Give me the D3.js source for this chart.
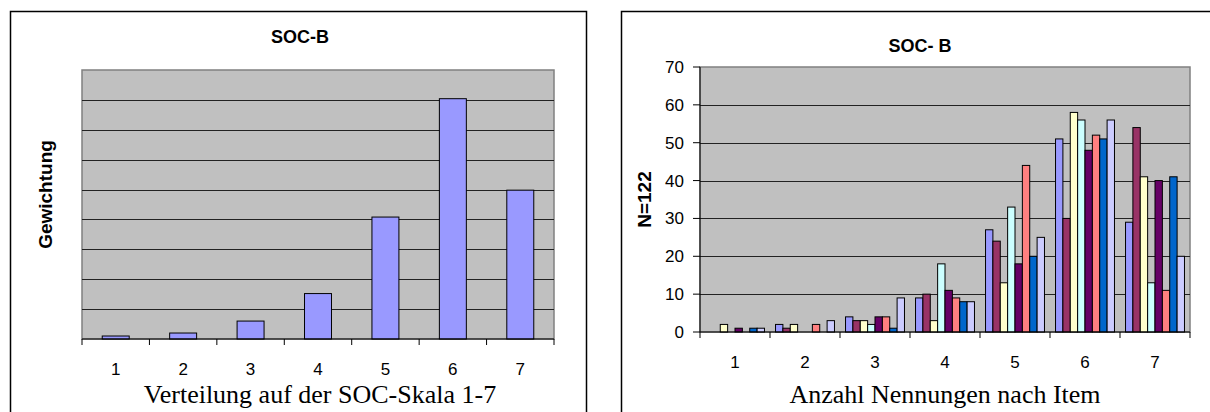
<!DOCTYPE html>
<html><head><meta charset="utf-8">
<script src="https://cdn.jsdelivr.net/npm/d3@7"></script>
<style>
html,body{margin:0;padding:0;background:#fff;}
svg{display:block;}
text{font-family:"Liberation Sans",Arial,sans-serif;}
.serif{font-family:"Liberation Serif","Times New Roman",serif;}
</style></head>
<body>
<svg id="c" width="1210" height="412"></svg>
<script>
// ---- data ----
const categories = ["1","2","3","4","5","6","7"];
// left chart: weighted totals per scale point (no y labels in original)
const leftValues = [5, 10, 30, 76, 204, 402, 249];
const leftGridTicks = [50,100,150,200,250,300,350,400,450];
// right chart: counts per item (8 items) for each scale point
const seriesNames = ["Item 1","Item 2","Item 3","Item 4","Item 5","Item 6","Item 7","Item 8"];
const s1 = [0, 2, 4, 9, 27, 51, 29];
const s2 = [0, 1, 3, 10, 24, 30, 54];
const s3 = [2, 2, 3, 3, 13, 58, 41];
const s4 = [0, 0, 2, 18, 33, 56, 13];
const s5 = [1, 0, 4, 11, 18, 48, 40];
const s6 = [0, 2, 4, 9, 44, 52, 11];
const s7 = [1, 0, 1, 8, 20, 51, 41];
const s8 = [1, 3, 9, 8, 25, 56, 20];
const rightSeries = [s1,s2,s3,s4,s5,s6,s7,s8];
const rightYTicks = [0,10,20,30,40,50,60,70];
const seriesColors = ["#9999FF","#993366","#FFFFCC","#CCFFFF","#660066","#FF8080","#0066CC","#CCCCFF"];

const svg = d3.select("#c");

// ---------- LEFT CHART ----------
(function(){
  const g = svg.append("g");
  g.append("rect").attr("x",10.5).attr("y",11.5).attr("width",576).attr("height",420)
    .attr("fill","#fff").attr("stroke","#000").attr("stroke-width",1.5);
  const L=82, R=554, T=70, B=339;
  const x = d3.scaleBand().domain(categories).range([L,R]).paddingInner(0.6).paddingOuter(0.3);
  const y = d3.scaleLinear().domain([0,450]).range([B,T]);
  const xb = d3.scaleBand().domain(categories).range([L,R]).padding(0);
  g.append("rect").attr("x",L).attr("y",T).attr("width",R-L).attr("height",B-T)
    .attr("fill","#C0C0C0").attr("stroke","#808080").attr("stroke-width",1.5);
  g.selectAll(".grid").data(leftGridTicks.filter(t=>t<450)).join("line")
    .attr("x1",L).attr("x2",R).attr("y1",d=>Math.round(y(d))+0.5).attr("y2",d=>Math.round(y(d))+0.5)
    .attr("stroke","#222").attr("stroke-width",1);
  g.selectAll(".bar").data(leftValues).join("rect")
    .attr("x",(d,i)=>x(categories[i])).attr("width",x.bandwidth())
    .attr("y",d=>y(d)).attr("height",d=>B-y(d))
    .attr("fill","#9999FF").attr("stroke","#000").attr("stroke-width",1);
  // x axis
  const ax = g.append("g").attr("transform",`translate(0,${B})`);
  ax.append("line").attr("x1",L).attr("x2",R).attr("stroke","#000");
  ax.selectAll(".tk").data(d3.range(categories.length+1)).join("line")
    .attr("x1",i=>L+i*xb.step()).attr("x2",i=>L+i*xb.step()).attr("y1",0).attr("y2",6).attr("stroke","#000");
  ax.selectAll(".lb").data(categories).join("text")
    .attr("x",d=>xb(d)+xb.bandwidth()/2).attr("y",36).attr("text-anchor","middle")
    .attr("font-size",17).text(d=>d);
  g.append("text").attr("x",300).attr("y",43).attr("text-anchor","middle")
    .attr("font-size",18).attr("font-weight","bold").text("SOC-B");
  g.append("text").attr("transform",`translate(52,${(T+B)/2-10}) rotate(-90)`)
    .attr("text-anchor","middle").attr("font-size",19).attr("font-weight","bold").text("Gewichtung");
  g.append("text").attr("class","serif").attr("x",(L+R)/2+2).attr("y",403).attr("text-anchor","middle")
    .attr("font-size",26).text("Verteilung auf der SOC-Skala 1-7");
})();

// ---------- RIGHT CHART ----------
(function(){
  const g = svg.append("g");
  g.append("rect").attr("x",621.5).attr("y",11.5).attr("width",620).attr("height",420)
    .attr("fill","#fff").attr("stroke","#000").attr("stroke-width",1.5);
  const L=700, R=1190, T=67, B=332;
  const x0 = d3.scaleBand().domain(categories).range([L,R]).padding(0);
  const x1 = d3.scaleBand().domain(d3.range(seriesNames.length)).range([0,x0.bandwidth()]).paddingInner(0).paddingOuter(0.75);
  const y = d3.scaleLinear().domain([0,70]).range([B,T]);
  g.append("rect").attr("x",L).attr("y",T).attr("width",R-L).attr("height",B-T)
    .attr("fill","#C0C0C0").attr("stroke","#808080").attr("stroke-width",1.5);
  g.selectAll(".grid").data(rightYTicks.filter(t=>t>0&&t<70)).join("line")
    .attr("x1",L).attr("x2",R).attr("y1",d=>Math.round(y(d))+0.5).attr("y2",d=>Math.round(y(d))+0.5)
    .attr("stroke","#222").attr("stroke-width",1);
  rightSeries.forEach((vals,si)=>{
    g.selectAll(".b"+si).data(vals.map((v,i)=>({v,c:categories[i]})).filter(d=>d.v>0)).join("rect")
      .attr("x",d=>x0(d.c)+x1(si)).attr("width",x1.bandwidth())
      .attr("y",d=>y(d.v)).attr("height",d=>B-y(d.v))
      .attr("fill",seriesColors[si]).attr("stroke","#000").attr("stroke-width",1);
  });
  // y axis
  const ay = g.append("g").attr("transform",`translate(${L},0)`);
  ay.append("line").attr("y1",T).attr("y2",B).attr("stroke","#000");
  ay.selectAll(".tk").data(rightYTicks).join("line")
    .attr("x1",-7).attr("x2",0).attr("y1",d=>y(d)).attr("y2",d=>y(d)).attr("stroke","#000");
  ay.selectAll(".lb").data(rightYTicks).join("text")
    .attr("x",-16).attr("y",d=>y(d)).attr("dy","0.35em").attr("text-anchor","end")
    .attr("font-size",17).text(d=>d);
  // x axis
  const ax = g.append("g").attr("transform",`translate(0,${B})`);
  ax.append("line").attr("x1",L).attr("x2",R).attr("stroke","#000");
  ax.selectAll(".tk").data(d3.range(categories.length+1)).join("line")
    .attr("x1",i=>L+i*x0.step()).attr("x2",i=>L+i*x0.step()).attr("y1",0).attr("y2",6).attr("stroke","#000");
  ax.selectAll(".lb").data(categories).join("text")
    .attr("x",d=>x0(d)+x0.bandwidth()/2).attr("y",36).attr("text-anchor","middle")
    .attr("font-size",17).text(d=>d);
  g.append("text").attr("x",(L+R)/2-25).attr("y",52).attr("text-anchor","middle")
    .attr("font-size",18).attr("font-weight","bold").text("SOC- B");
  g.append("text").attr("transform",`translate(651,${(T+B)/2}) rotate(-90)`)
    .attr("text-anchor","middle").attr("font-size",19).attr("font-weight","bold").text("N=122");
  g.append("text").attr("class","serif").attr("x",(L+R)/2).attr("y",403).attr("text-anchor","middle")
    .attr("font-size",26).text("Anzahl Nennungen nach Item");
})();
</script>
</body></html>
